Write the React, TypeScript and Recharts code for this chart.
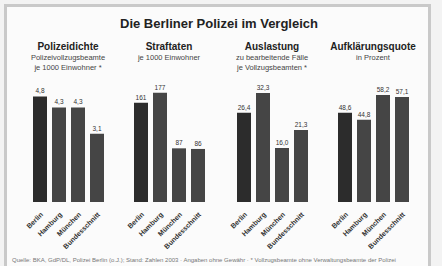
import { Bar, BarChart, Cell, LabelList, XAxis, YAxis } from "recharts";

const cities = ["Berlin", "Hamburg", "München", "Bundesschnitt"];

const polizeidichte = [4.8, 4.3, 4.3, 3.1];
const straftaten = [161, 177, 87, 86];
const auslastung = [26.4, 32.3, 16.0, 21.3];
const aufklaerung = [48.6, 44.8, 58.2, 57.1];

const panels = [
  {
    title: "Polizeidichte",
    sub: ["Polizeivollzugsbeamte", "je 1000 Einwohner *"],
    values: polizeidichte,
    max: 6.0,
    digits: 1,
    left: 20,
  },
  {
    title: "Straftaten",
    sub: ["je 1000 Einwohner"],
    values: straftaten,
    max: 214,
    digits: 0,
    left: 121,
  },
  {
    title: "Auslastung",
    sub: ["zu bearbeitende Fälle", "je Vollzugsbeamten *"],
    values: auslastung,
    max: 39.1,
    digits: 1,
    left: 224,
  },
  {
    title: "Aufklärungsquote",
    sub: ["in Prozent"],
    values: aufklaerung,
    max: 71.8,
    digits: 1,
    left: 325,
  },
];

const font = "'Liberation Sans', Arial, sans-serif";

function fmt(v: number, digits: number) {
  return v.toFixed(digits).replace(".", ",");
}

function CityTick({ x, y, payload }: any) {
  const tx = x + 4;
  const ty = y + 5;
  return (
    <text
      x={tx}
      y={ty}
      transform={`rotate(-45 ${tx} ${ty})`}
      textAnchor="end"
      fontSize={7}
      fontWeight="bold"
      fill="#333"
      fontFamily={font}
    >
      {payload.value}
    </text>
  );
}

function Panel({ panel }: { panel: (typeof panels)[number] }) {
  const data = cities.map((name, i) => ({ name, value: panel.values[i] }));
  return (
    <div style={{ position: "absolute", left: panel.left, top: 40, width: 96 }}>
      <div
        style={{
          position: "absolute",
          left: -20,
          width: 136,
          top: 0,
          textAlign: "center",
          fontFamily: font,
          color: "#222",
        }}
      >
        <div style={{ fontSize: 10, fontWeight: "bold", lineHeight: "13px" }}>{panel.title}</div>
        {panel.sub.map((s) => (
          <div key={s} style={{ fontSize: 7.5, lineHeight: "10px", color: "#444" }}>
            {s}
          </div>
        ))}
      </div>
      <div style={{ position: "absolute", left: 0, top: 30 }}>
        <BarChart
          width={96}
          height={180}
          data={data}
          margin={{ top: 0, right: 10, bottom: 0, left: 10 }}
        >
          <XAxis
            dataKey="name"
            height={48}
            interval={0}
            axisLine={false}
            tickLine={false}
            tick={<CityTick />}
          />
          <YAxis hide domain={[0, panel.max]} />
          <Bar dataKey="value" barSize={14} isAnimationActive={false}>
            {data.map((d, i) => (
              <Cell key={d.name} fill={i === 0 ? "#2c2c2c" : "#454545"} />
            ))}
            <LabelList
              dataKey="value"
              position="top"
              offset={3}
              formatter={(v: any) => fmt(Number(v), panel.digits)}
              style={{ fontSize: 6.5, fill: "#333", fontFamily: font }}
            />
          </Bar>
        </BarChart>
      </div>
    </div>
  );
}

export default function App() {
  return (
    <div
      style={{
        position: "absolute",
        left: 0,
        top: 0,
        width: 442,
        height: 266,
        background: "#f3f3f3",
        overflow: "hidden",
      }}
    >
      <div
        style={{
          position: "absolute",
          left: 4,
          top: 4,
          width: 421,
          height: 262,
          border: "3px solid #c9c9c9",
          background: "#fbfbfb",
        }}
      />
      <div
        style={{
          position: "absolute",
          left: 0,
          width: 438,
          top: 16,
          textAlign: "center",
          fontFamily: font,
          fontSize: 13,
          fontWeight: "bold",
          color: "#222",
        }}
      >
        Die Berliner Polizei im Vergleich
      </div>
      {panels.map((p) => (
        <Panel key={p.title} panel={p} />
      ))}
      <div
        style={{
          position: "absolute",
          left: 12,
          top: 257,
          width: 414,
          fontFamily: font,
          fontSize: 6,
          color: "#777",
          whiteSpace: "nowrap",
        }}
      >
        Quelle: BKA, GdP/DL, Polizei Berlin (o.J.); Stand: Zahlen 2003 · Angaben ohne Gewähr · * Vollzugsbeamte ohne
        Verwaltungsbeamte der Polizei
      </div>
    </div>
  );
}
